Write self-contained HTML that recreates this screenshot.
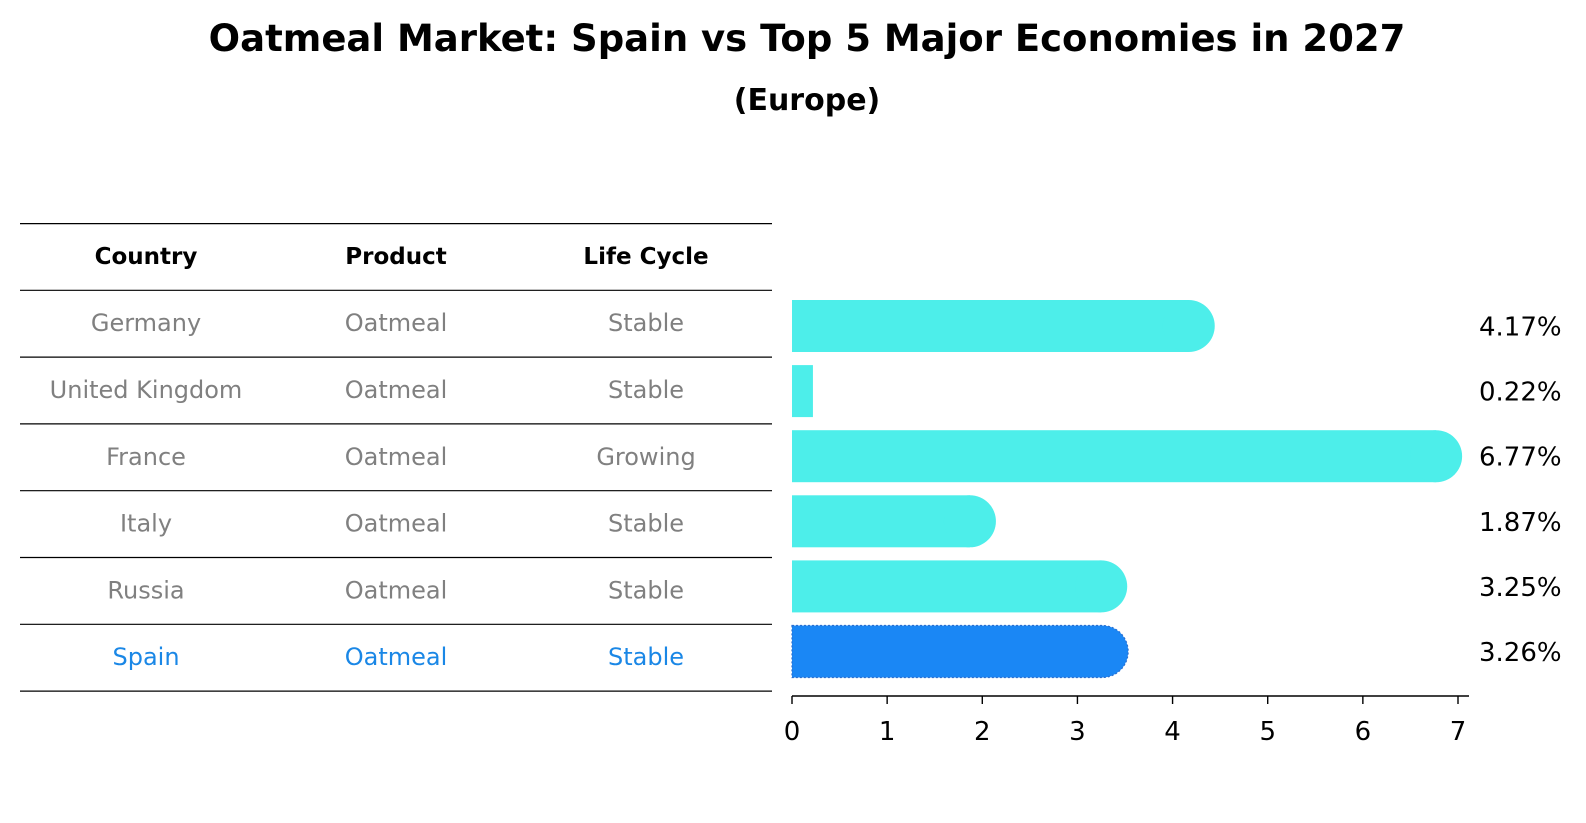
<!DOCTYPE html>
<html><head><meta charset="utf-8">
<style>
html,body{margin:0;padding:0;background:#fff;overflow:hidden;width:1586px;height:823px;}
svg{display:block;}
svg text{font-family:"DejaVu Sans","Liberation Sans",sans-serif;}
</style></head>
<body>
<svg id="chart" width="1586" height="823" viewBox="0 0 1586 823" xmlns="http://www.w3.org/2000/svg">
<text x="807" y="51" text-anchor="middle" font-size="37" font-weight="bold">Oatmeal Market: Spain vs Top 5 Major Economies in 2027</text>
<text x="807" y="110" text-anchor="middle" font-size="30" font-weight="bold">(Europe)</text>
<g id="table"></g>
<g id="bars"></g>
<g id="axis"></g>
</svg>
<script>
const countries = ["Germany","United Kingdom","France","Italy","Russia","Spain"];
const products = ["Oatmeal","Oatmeal","Oatmeal","Oatmeal","Oatmeal","Oatmeal"];
const lifecycles = ["Stable","Stable","Growing","Stable","Stable","Stable"];
const values = [4.17,0.22,6.77,1.87,3.25,3.26];
const xTicks = [0,1,2,3,4,5,6,7];
const headers = ["Country","Product","Life Cycle"];

const NS = "http://www.w3.org/2000/svg";
function mk(tag, attrs, parent){const e=document.createElementNS(NS,tag);for(const k in attrs)e.setAttribute(k,attrs[k]);parent.appendChild(e);return e;}
const x0=792, pxPerUnit=(1458-792)/7;
function sx(v){return x0+v*pxPerUnit;}
const rowTop=290.3, rowH=66.8;
function rowCenter(i){return rowTop+rowH*i+rowH/2;}
function barCenter(i){return 326+65.1*i;}

// table
const table=document.getElementById('table');
const colX=[146,396,646];
const lineYs=[223.6];
for(let i=0;i<=countries.length;i++) lineYs.push(rowTop+rowH*i);
lineYs.forEach((y,i)=>{
  const l=mk('line',{x1:20,x2:772,y1:y,y2:y,stroke:'#000','stroke-width':1.2},table);
  
  
});
headers.forEach((h,j)=>{
  const t=mk('text',{x:colX[j],y:264,'text-anchor':'middle','font-size':23,'font-weight':'bold'},table);
  t.textContent=h;
  
  
});
countries.forEach((c,i)=>{
  const col=(i===countries.length-1)?'#1a87e6':'#808080';
  [c,products[i],lifecycles[i]].forEach((v,j)=>{
    const t=mk('text',{x:colX[j],y:rowCenter(i)+7.5,'text-anchor':'middle','font-size':24,fill:col},table);
    t.textContent=v;
    
    
  });
});

// bars
const bars=document.getElementById('bars');
const barH=52, r=barH/2;
values.forEach((v,i)=>{
  const cy=barCenter(i);
  const isSpain=i===values.length-1;
  const fill=isSpain?'#1a87f5':'#4deeea';
  const w=sx(v)-x0;
  const g=mk('g',{},bars);
  
  
  mk('rect',{x:x0,y:cy-r,width:w,height:barH,fill:fill},g);
  if(w>r){
    mk('circle',{cx:sx(v),cy:cy,r:r,fill:fill},g);
    if(isSpain){
      mk('path',{d:`M${x0},${cy-r} H${sx(v)} A${r},${r} 0 0 1 ${sx(v)},${cy+r} H${x0} Z`,fill:'none',stroke:'#2a6fd0','stroke-width':1.2,'stroke-dasharray':'2,2'},g);
    }
  }
  const t=mk('text',{x:1479,y:cy+9.5,'font-size':26},bars);
  t.textContent=v.toFixed(2)+'%';
  
  
});

// axis
const axis=document.getElementById('axis');
mk('line',{x1:x0,x2:1469,y1:696,y2:696,stroke:'#000','stroke-width':1.4},axis);
xTicks.forEach(t=>{
  mk('line',{x1:sx(t),x2:sx(t),y1:696,y2:704,stroke:'#000','stroke-width':1.4},axis);
  const tx=mk('text',{x:sx(t),y:740,'text-anchor':'middle','font-size':26},axis);
  tx.textContent=t;
  
  
});
</script>
</body></html>
